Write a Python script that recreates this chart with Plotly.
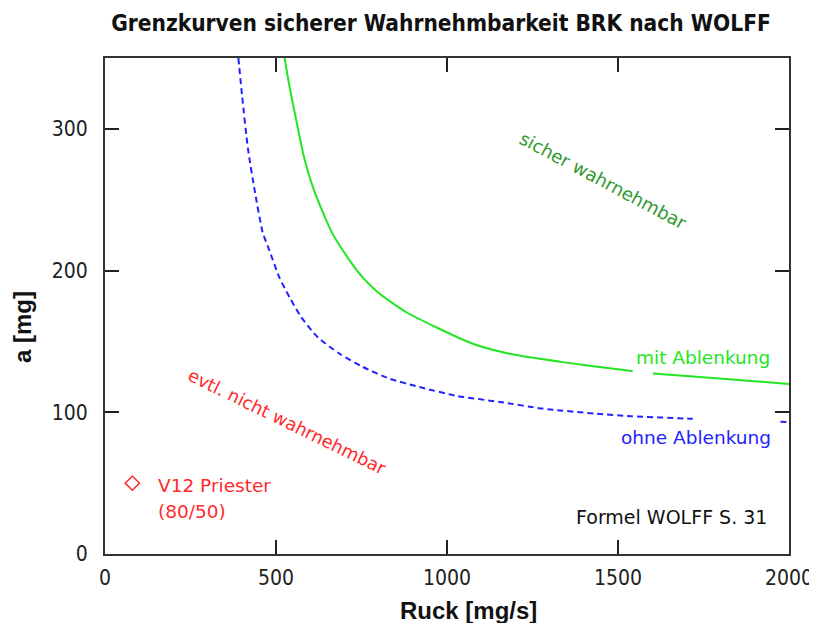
import plotly.graph_objects as go

# Data (None = gap in the drawn curve)
ruck_mit = [525, 541, 561, 581, 610, 661, 710, 754, 803, 881, 968, 1075, 1183, 1339, 1524, 1543, None,
            1602, 1806, 2000]
a_mit = [350, 328, 304, 281, 257.5, 228, 209, 195, 183.6, 170.6, 160, 148.4, 141.3, 135.4, 129.6, 129.0, None,
         127.3, 123.7, 120]

ruck_ohne = [390, 401, 418, 437, 461, 481, 510, 540, 574, 622, 686, 754, 832, 920, 1030, 1154, 1280, 1436,
             1539, 1709, 1722, None, 1975, 2000]
a_ohne = [350, 323, 286, 257.5, 227, 214, 195, 181, 167, 153, 141.3, 132, 123.7, 117.8, 111.5, 107.3, 102.6, 99,
          97.2, 95.5, 95.3, None, 93.3, 93]

punkt_x = [80]
punkt_y = [50]

x_ticks = [0, 500, 1000, 1500, 2000]
y_ticks = [0, 100, 200, 300]

GREEN = "#22e622"
BLUE = "#2222ff"
RED = "#ff2a2a"
DKGREEN = "#2e9a2e"
LBL = "DejaVu Sans, Verdana, sans-serif"
NARROW = "Liberation Sans Narrow, DejaVu Sans Condensed, Arial Narrow, sans-serif"

OFF = 8  # page body margin in the browser

fig = go.Figure()
fig.add_trace(go.Scatter(x=ruck_ohne, y=a_ohne, mode="lines", connectgaps=False,
                         line=dict(color=BLUE, width=2, dash="6px,4px", shape="spline", smoothing=0.6),
                         hoverinfo="skip"))
fig.add_trace(go.Scatter(x=ruck_mit, y=a_mit, mode="lines", connectgaps=False,
                         line=dict(color=GREEN, width=2, shape="spline", smoothing=0.6), hoverinfo="skip"))
fig.add_trace(go.Scatter(x=punkt_x, y=punkt_y, mode="markers",
                         marker=dict(symbol="diamond-open", size=11, color=RED, line=dict(width=1.5, color=RED)),
                         hoverinfo="skip"))


def px2x(p):
    return (p - 105) / 684.0


def px2y(p):
    return (554 - p) / 496.0


ann = [
    dict(text="mit Ablenkung", x=772, y=357, xanchor="right", color=GREEN, size=18.5),
    dict(text="ohne Ablenkung", x=773, y=437, xanchor="right", color=BLUE, size=18.5),
    dict(text="Formel WOLFF S. 31", x=769, y=517, xanchor="right", color="#111111", size=19),
    dict(text="V12 Priester", x=156, y=485, xanchor="left", color=RED, size=18.5),
    dict(text="(80/50)", x=156, y=511, xanchor="left", color=RED, size=18.5),
]

annotations = []
for a in ann:
    annotations.append(dict(
        text=a["text"], x=px2x(a["x"]), y=px2y(a["y"]), xref="paper", yref="paper",
        xanchor=a["xanchor"], yanchor="middle", showarrow=False,
        font=dict(family=LBL, size=a["size"], color=a["color"])))

annotations.append(dict(text="sicher wahrnehmbar", x=px2x(603), y=px2y(181), xref="paper", yref="paper",
                        xanchor="center", yanchor="middle", showarrow=False, textangle=28,
                        font=dict(family=LBL, size=18, color=DKGREEN)))
annotations.append(dict(text="evtl. nicht wahrnehmbar", x=px2x(287), y=px2y(422), xref="paper", yref="paper",
                        xanchor="center", yanchor="middle", showarrow=False, textangle=26,
                        font=dict(family=LBL, size=17.7, color=RED)))
annotations.append(dict(text="<b>Ruck [mg/s]</b>", x=px2x(468), y=px2y(610), xref="paper", yref="paper",
                        xanchor="center", yanchor="middle", showarrow=False,
                        font=dict(family="Liberation Sans, Arial, sans-serif", size=24, color="#111111")))
annotations.append(dict(text="<b>a [mg]</b>", x=px2x(22), y=px2y(327), xref="paper", yref="paper",
                        xanchor="center", yanchor="middle", showarrow=False, textangle=-90,
                        font=dict(family="Liberation Sans, Arial, sans-serif", size=24, color="#111111")))

axis_common = dict(showgrid=False, zeroline=False, showline=True, linecolor="#333333", linewidth=2,
                   mirror="allticks", ticks="inside", ticklen=14, tickwidth=2, tickcolor="#222222",
                   automargin=False,
                   tickfont=dict(family=NARROW, size=21, color="#222222"))

fig.update_layout(
    width=817 - OFF, height=623 - OFF,
    margin=dict(l=105 - OFF, r=28, t=58 - OFF, b=69, autoexpand=False),
    paper_bgcolor="white", plot_bgcolor="white",
    showlegend=False,
    title=dict(text="<b>Grenzkurven sicherer Wahrnehmbarkeit BRK nach WOLFF</b>",
               x=(441 - OFF) / (817 - OFF), xref="container", xanchor="center",
               y=1 - (23 - OFF) / (623 - OFF), yref="container", yanchor="middle",
               font=dict(family=NARROW, size=22.5, color="#111111")),
    xaxis=dict(range=[0, 2000], tickvals=x_ticks, ticktext=[str(v) for v in x_ticks],
               ticklabelstandoff=4, **axis_common),
    yaxis=dict(range=[0, 350], tickvals=y_ticks, ticktext=[str(v) for v in y_ticks],
               ticklabelstandoff=11, **axis_common),
    annotations=annotations,
)

fig.write_html("out.html")
